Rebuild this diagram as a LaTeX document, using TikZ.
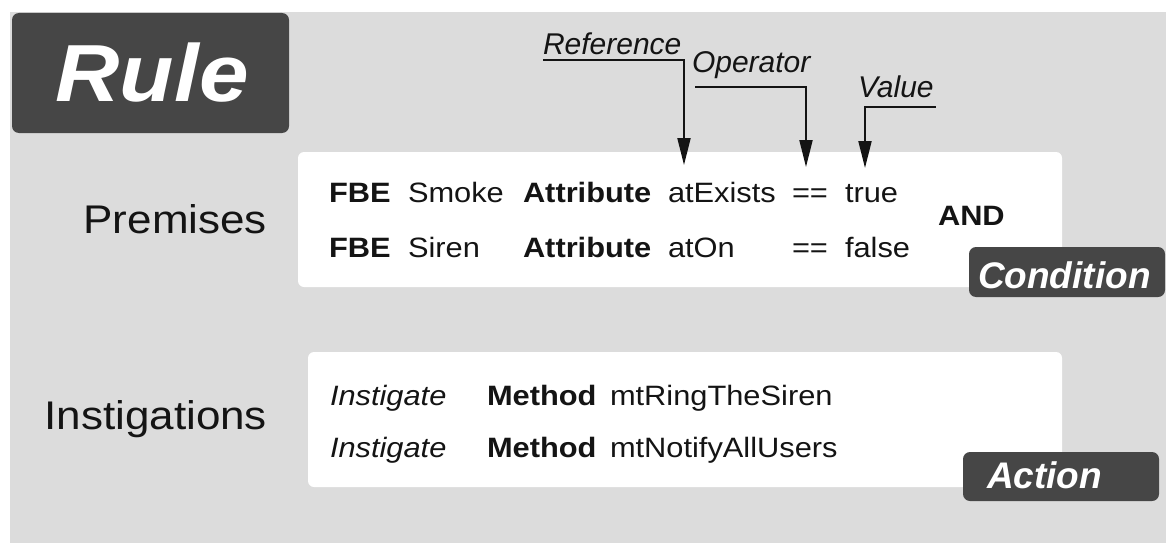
\documentclass[tikz,border=0pt]{standalone}
\usepackage{fontspec}
\setmainfont[FakeStretch=1.1]{Liberation Sans}
\newfontfamily\tagfont{Liberation Sans}
\usetikzlibrary{arrows.meta}
\definecolor{panel}{HTML}{DCDCDC}
\definecolor{tagdark}{HTML}{464646}
\definecolor{ink}{HTML}{141414}

\begin{document}
\begin{tikzpicture}[x=1pt,y=-1pt,
  every node/.style={inner sep=0pt, outer sep=0pt, text=ink},
  txt/.style={anchor=base west, font=\fontsize{28}{30}\selectfont},
  kw/.style={anchor=base west, font=\fontsize{28}{30}\selectfont\bfseries},
  verb/.style={anchor=base west, font=\fontsize{28}{30}\selectfont\itshape},
  side/.style={anchor=base east, font=\fontsize{40}{44}\selectfont},
  pane/.style={fill=white, rounded corners=6pt, anchor=north west},
  badge/.style={fill=tagdark, rounded corners=7pt, anchor=north west},
  badgetext/.style={anchor=base west, text=white, font=\tagfont\fontsize{37}{40}\selectfont\bfseries\itshape},
  callout/.style={anchor=base west, font=\tagfont\fontsize{30}{32}\selectfont\itshape},
  pointer/.style={draw=ink, line width=2pt, -{Triangle[length=27pt,width=13pt]}},
]
% canvas and grey panel
\useasboundingbox (0,0) rectangle (1166,543);
\fill[white] (0,0) rectangle (1166,543);
\fill[panel] (10,12) rectangle (1166,543);

% title badge
\node[badge, minimum width=277pt, minimum height=120pt] (rulebox) at (12,13) {};
\node[anchor=base, text=white, font=\fontsize{81}{84}\selectfont\bfseries\itshape] (ruletext) at (152,101) {Rule};

% section labels
\node[side] (premises) at (267,233) {Premises};
\node[side] (instig) at (267,429) {Instigations};

% white panes
\node[pane, minimum width=764pt, minimum height=135pt] (condpane) at (298,152) {};
\node[pane, minimum width=754pt, minimum height=135pt] (actpane) at (308,352) {};

% premises rows
\node[kw]  (f1)  at (329,202) {FBE};
\node[txt] (s1)  at (408,202) {Smoke};
\node[kw]  (a1)  at (523,202) {Attribute};
\node[txt] (r1)  at (668,202) {atExists};
\node[txt] (o1)  at (792,202) {==};
\node[txt] (v1)  at (845,202) {true};

\node[kw]  (f2)  at (329,257) {FBE};
\node[txt] (s2)  at (408,257) {Siren};
\node[kw]  (a2)  at (523,257) {Attribute};
\node[txt] (r2)  at (668,257) {atOn};
\node[txt] (o2)  at (792,257) {==};
\node[txt] (v2)  at (845,257) {false};

\node[kw] (and) at (938,225) {AND};

% instigation rows
\node[verb] (i1) at (330,405) {Instigate};
\node[kw]   (m1) at (487,405) {Method};
\node[txt]  (n1) at (610,405) {mtRingTheSiren};
\node[verb] (i2) at (330,457) {Instigate};
\node[kw]   (m2) at (487,457) {Method};
\node[txt]  (n2) at (610,457) {mtNotifyAllUsers};

% badges
\node[badge, minimum width=196pt, minimum height=50pt] (condbadge) at (969,247) {};
\node[badgetext] (condtext) at (978,288) {Condition};
\node[badge, minimum width=196pt, minimum height=49pt] (actbadge) at (963,452) {};
\node[badgetext] (acttext) at (987,488) {Action};

% callouts
\node[callout] (ref) at (543,55) {Reference};
\node[callout] (op)  at (692,72) {Operator};
\node[callout] (val) at (858,97) {Value};
\coordinate (reftip) at (684,165);
\coordinate (optip)  at (806,167);
\coordinate (valtip) at (865,168);
\draw[pointer] ([yshift=-5pt]ref.base west) -| (reftip);
\draw[pointer] ([yshift=-15pt,xshift=3pt]op.base west) -| (optip);
\draw[pointer] ([yshift=-10pt,xshift=2pt]val.base east) -| (valtip);
\end{tikzpicture}
\end{document}
